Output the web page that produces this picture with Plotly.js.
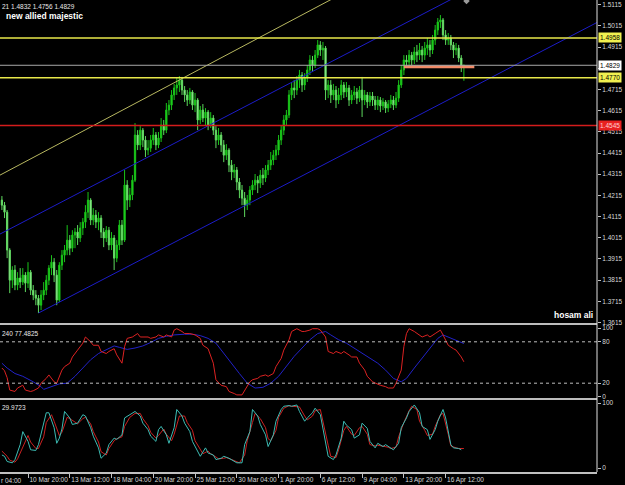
<!DOCTYPE html>
<html><head><meta charset="utf-8">
<script src="https://cdn.plot.ly/plotly-3.0.1.min.js"></script>
<style>html,body{margin:0;padding:0;background:#000;}#chart{width:625px;height:485px;}</style>
</head><body><div id="chart"></div>
<script>
// ---- H4 bars (price) ----
const barOpen = [1.4193,1.4169,1.4136,1.3957,1.3815,1.3863,1.3792,1.3825,1.3806,1.3839,
1.3801,1.3853,1.3768,1.3745,1.3730,1.3697,1.3745,1.3768,1.3815,1.3872,
1.3900,1.3839,1.3721,1.3886,1.3933,1.3957,1.4004,1.3966,1.4028,1.4042,
1.4014,1.4061,1.4089,1.4136,1.4193,1.4099,1.4122,1.4089,1.4108,1.4042,
1.4014,1.4051,1.3981,1.4014,1.3919,1.3981,1.4075,1.4004,1.4264,1.4193,
1.4217,1.4287,1.4500,1.4453,1.4523,1.4476,1.4429,1.4438,1.4476,1.4500,
1.4453,1.4486,1.4547,1.4523,1.4618,1.4641,1.4689,1.4722,1.4736,1.4759,
1.4712,1.4689,1.4665,1.4703,1.4641,1.4665,1.4571,1.4618,1.4580,1.4608,
1.4547,1.4580,1.4523,1.4476,1.4500,1.4453,1.4405,1.4429,1.4358,1.4325,
1.4335,1.4278,1.4240,1.4202,1.4169,1.4193,1.4240,1.4264,1.4287,1.4273,
1.4311,1.4297,1.4335,1.4358,1.4382,1.4405,1.4429,1.4476,1.4523,1.4571,
1.4594,1.4689,1.4722,1.4712,1.4759,1.4783,1.4736,1.4769,1.4807,1.4854,
1.4830,1.4877,1.4925,1.4901,1.4910,1.4712,1.4736,1.4689,1.4712,1.4665,
1.4689,1.4736,1.4703,1.4722,1.4665,1.4689,1.4703,1.4674,1.4712,1.4665,
1.4689,1.4656,1.4684,1.4665,1.4641,1.4665,1.4637,1.4656,1.4627,1.4646,
1.4665,1.4641,1.4674,1.4736,1.4807,1.4854,1.4844,1.4877,1.4854,1.4892,
1.4877,1.4901,1.4877,1.4910,1.4925,1.4901,1.4948,1.4995,1.5033,1.5043,
1.4972,1.4948,1.4958,1.4925,1.4901,1.4910,1.4863,1.4821];
const barHigh = [1.4212,1.4184,1.4146,1.3966,1.3881,1.3886,1.3853,1.3872,1.3872,1.3853,
1.3900,1.3863,1.3792,1.3768,1.3745,1.3768,1.3806,1.3839,1.3886,1.3933,
1.3919,1.3863,1.3900,1.3957,1.3981,1.4075,1.4028,1.4051,1.4061,1.4075,
1.4089,1.4108,1.4169,1.4231,1.4202,1.4155,1.4146,1.4136,1.4122,1.4061,
1.4070,1.4066,1.4042,1.4028,1.4004,1.4099,1.4099,1.4335,1.4287,1.4250,
1.4311,1.4556,1.4523,1.4542,1.4533,1.4495,1.4476,1.4500,1.4533,1.4514,
1.4514,1.4580,1.4571,1.4651,1.4665,1.4712,1.4741,1.4769,1.4778,1.4774,
1.4731,1.4712,1.4722,1.4712,1.4698,1.4674,1.4637,1.4646,1.4627,1.4618,
1.4608,1.4594,1.4542,1.4533,1.4514,1.4476,1.4457,1.4438,1.4382,1.4363,
1.4349,1.4297,1.4264,1.4231,1.4217,1.4259,1.4287,1.4316,1.4306,1.4335,
1.4344,1.4358,1.4382,1.4420,1.4429,1.4453,1.4500,1.4547,1.4594,1.4618,
1.4712,1.4750,1.4759,1.4778,1.4807,1.4797,1.4792,1.4830,1.4877,1.4873,
1.4901,1.4948,1.4943,1.4939,1.4920,1.4759,1.4759,1.4741,1.4731,1.4722,
1.4759,1.4750,1.4750,1.4736,1.4712,1.4731,1.4722,1.4731,1.4774,1.4712,
1.4703,1.4703,1.4703,1.4684,1.4684,1.4679,1.4674,1.4665,1.4665,1.4689,
1.4684,1.4703,1.4759,1.4830,1.4877,1.4877,1.4901,1.4892,1.4915,1.4925,
1.4934,1.4920,1.4939,1.4958,1.4948,1.4972,1.5019,1.5052,1.5066,1.5052,
1.4995,1.4981,1.4972,1.4939,1.4934,1.4925,1.4877,1.4832];
const barLow = [1.4146,1.4108,1.3919,1.3754,1.3778,1.3768,1.3768,1.3778,1.3792,1.3759,
1.3778,1.3745,1.3721,1.3697,1.3660,1.3674,1.3721,1.3745,1.3792,1.3839,
1.3806,1.3697,1.3712,1.3863,1.3900,1.3933,1.3933,1.3948,1.3966,1.3981,
1.3995,1.4028,1.4061,1.4108,1.4075,1.4075,1.4061,1.4051,1.4014,1.3971,
1.3995,1.3957,1.3957,1.3863,1.3900,1.3957,1.3981,1.3995,1.4146,1.4160,
1.4193,1.4278,1.4429,1.4429,1.4443,1.4396,1.4405,1.4420,1.4453,1.4429,
1.4438,1.4467,1.4500,1.4509,1.4594,1.4618,1.4665,1.4689,1.4703,1.4689,
1.4656,1.4637,1.4646,1.4618,1.4608,1.4523,1.4552,1.4561,1.4547,1.4523,
1.4533,1.4500,1.4438,1.4453,1.4420,1.4372,1.4382,1.4325,1.4287,1.4297,
1.4240,1.4202,1.4169,1.4113,1.4146,1.4169,1.4217,1.4240,1.4226,1.4250,
1.4264,1.4278,1.4311,1.4335,1.4358,1.4382,1.4405,1.4453,1.4500,1.4547,
1.4580,1.4665,1.4674,1.4689,1.4722,1.4703,1.4712,1.4750,1.4783,1.4797,
1.4816,1.4863,1.4873,1.4854,1.4665,1.4674,1.4651,1.4665,1.4627,1.4646,
1.4665,1.4674,1.4679,1.4637,1.4646,1.4665,1.4646,1.4656,1.4585,1.4641,
1.4627,1.4637,1.4637,1.4618,1.4618,1.4608,1.4618,1.4604,1.4608,1.4627,
1.4618,1.4627,1.4656,1.4722,1.4783,1.4816,1.4825,1.4830,1.4835,1.4844,
1.4854,1.4844,1.4854,1.4877,1.4868,1.4882,1.4925,1.4972,1.5005,1.4948,
1.4925,1.4925,1.4901,1.4863,1.4877,1.4844,1.4797,1.4756];
const barClose = [1.4169,1.4136,1.3957,1.3815,1.3863,1.3792,1.3825,1.3806,1.3839,1.3801,
1.3853,1.3768,1.3745,1.3730,1.3697,1.3745,1.3768,1.3815,1.3872,1.3900,
1.3839,1.3721,1.3886,1.3933,1.3957,1.4004,1.3966,1.4028,1.4042,1.4014,
1.4061,1.4089,1.4136,1.4193,1.4099,1.4122,1.4089,1.4108,1.4042,1.4014,
1.4051,1.3981,1.4014,1.3919,1.3981,1.4075,1.4004,1.4264,1.4193,1.4217,
1.4287,1.4500,1.4453,1.4523,1.4476,1.4429,1.4438,1.4476,1.4500,1.4453,
1.4486,1.4547,1.4523,1.4618,1.4641,1.4689,1.4722,1.4736,1.4759,1.4712,
1.4689,1.4665,1.4703,1.4641,1.4665,1.4571,1.4618,1.4580,1.4608,1.4547,
1.4580,1.4523,1.4476,1.4500,1.4453,1.4405,1.4429,1.4358,1.4325,1.4335,
1.4278,1.4240,1.4202,1.4169,1.4193,1.4240,1.4264,1.4287,1.4273,1.4311,
1.4297,1.4335,1.4358,1.4382,1.4405,1.4429,1.4476,1.4523,1.4571,1.4594,
1.4689,1.4722,1.4712,1.4759,1.4783,1.4736,1.4769,1.4807,1.4854,1.4830,
1.4877,1.4925,1.4901,1.4910,1.4712,1.4736,1.4689,1.4712,1.4665,1.4689,
1.4736,1.4703,1.4722,1.4665,1.4689,1.4703,1.4674,1.4712,1.4665,1.4689,
1.4656,1.4684,1.4665,1.4641,1.4665,1.4637,1.4656,1.4627,1.4646,1.4665,
1.4641,1.4674,1.4736,1.4807,1.4854,1.4844,1.4877,1.4854,1.4892,1.4877,
1.4901,1.4877,1.4910,1.4925,1.4901,1.4948,1.4995,1.5033,1.5043,1.4972,
1.4948,1.4958,1.4925,1.4901,1.4910,1.4863,1.4821,1.4829];

// ---- time axis ----
const tickBars = [10,26,42,58,74,90,106,122,138,154,170];
const tickLabels = ['10 Mar 20:00','13 Mar 12:00','18 Mar 04:00','20 Mar 20:00','25 Mar 12:00',
  '30 Mar 04:00','1 Apr 20:00','6 Apr 12:00','9 Apr 04:00','13 Apr 20:00','16 Apr 12:00'];
const cutLabel = 'r 04:00';

// ---- price scale (1.4815 is hidden under the bid tag in the reference) ----
const priceTicks = [1.3615,1.3715,1.3815,1.3915,1.4015,1.4115,1.4215,1.4315,1.4415,1.4515,
  1.4615,1.4715,1.4815,1.4915,1.5015,1.5115];
const priceTickText = ['1.3615','1.3715','1.3815','1.3915','1.4015','1.4115','1.4215','1.4315','1.4415','1.4515',
  '1.4615','1.4715','','1.4915','1.5015','1.5115'];

// ---- objects ----
const yellowLevels = [1.4958, 1.4770];
const bidLevel = 1.4829;
const redLevel = 1.4545;
const orangeIdx = [154, 181];
const orangePrice = [1.4822, 1.4822];
const upperChIdx = [-1, 228];
const upperChPrice = [1.4031, 1.5498];
const lowerChIdx = [14, 228];
const lowerChPrice = [1.3660, 1.5031];
const yellowTrendIdx = [-1, 140];
const yellowTrendPrice = [1.4309, 1.5230];
const markIdx = [178];
const markPrice = [1.5132];

// ---- Stochastic (panel 2) ----
const kIdx = [0,1,2,3,5,6,8,9,11,12,14,15,17,18,20,21,23,24,26,27,29,31,32,34,35,37,38,40,41,43,44,46,47,48,50,52,53,56,57,59,60,62,63,65,66,67,69,70,72,74,76,77,79,81,82,84,86,87,89,90,92,93,95,96,98,99,101,102,104,105,107,108,110,111,113,115,116,118,119,121,122,124,125,127,128,130,131,133,134,136,137,139,140,142,143,145,147,148,150,151,153,154,155,156,158,160,161,163,164,166,167,168,169,171,173,174,176,177];
const kVal = [42,38,28,10,8,13,17,10,8,9,13,20,27,32,22,20,39,44,49,58,68,78,87,80,75,75,66,63,66,70,61,49,73,85,87,92,87,87,85,87,90,87,90,87,97,99,95,92,92,90,85,75,70,49,25,17,15,8,5,3,3,10,22,25,27,30,32,30,34,44,56,68,83,95,99,95,95,97,99,99,97,87,66,63,66,63,66,61,58,58,49,39,30,22,20,17,15,13,13,20,39,73,92,99,95,90,87,90,87,92,95,97,90,75,70,68,58,51];
const dIdx = [0,2,5,8,12,15,16,19,22,25,28,31,34,37,41,43,45,48,51,54,57,60,63,66,70,73,76,79,82,85,88,91,94,97,100,103,106,109,112,115,118,121,124,126,129,132,135,138,141,144,147,150,153,155,158,161,164,167,169,171,173,177];
const dVal = [49,42,34,30,22,15,11,15,19,20,30,42,54,63,71,74,72,69,71,74,79,85,88,90,91,91,89,85,78,63,49,34,20,13,14,20,30,44,59,71,83,92,95,90,83,78,71,63,56,49,39,27,22,27,42,56,71,85,90,87,84,77.5];

// ---- Oscillator (panel 3) ----
const fIdx = [0,1,2,4,5,7,8,10,11,13,14,16,17,18,20,21,22,23,24,26,27,29,31,32,34,35,37,38,40,41,43,44,46,47,49,51,53,54,56,57,59,60,61,63,64,66,67,69,70,72,73,75,76,78,79,81,82,84,85,87,89,90,92,93,95,96,98,99,101,102,104,105,107,108,110,111,113,114,116,117,119,120,122,124,125,127,128,130,131,132,134,135,137,138,140,141,143,144,146,147,149,150,152,153,155,156,158,160,161,163,164,166,167,169,170,172,173,175,176];
const fVal = [20,18,10,8,13,36,56,41,28,27,36,67,85,85,62,38,46,60,87,77,67,69,82,80,62,49,31,15,23,36,46,44,51,77,82,87,80,69,59,49,41,59,64,51,38,62,90,80,69,56,41,26,18,31,23,20,13,15,18,15,10,8,8,36,56,90,80,67,51,33,51,72,90,95,96,95,97,87,72,77,85,92,82,41,18,13,20,46,72,66,59,46,51,69,61,41,31,38,33,36,31,28,38,62,77,87,97,85,64,59,44,59,72,90,77,36,31,30,28,23];
const sIdx = [0,2,3,5,6,8,10,11,13,14,16,17,19,20,22,23,25,26,28,29,31,32,34,35,37,38,40,41,43,44,46,47,49,51,53,54,56,57,59,60,62,63,65,66,68,70,71,73,74,76,77,79,80,82,83,85,86,88,90,91,93,94,96,97,99,101,102,103,105,106,108,110,111,113,114,116,117,119,120,122,123,125,126,128,129,131,132,134,135,137,138,140,141,143,144,146,148,149,151,152,154,156,157,159,160,162,163,165,166,168,169,171,172,174,175,177];
const sVal = [26,18,12,9,14,32,50,40,30,30,48,70,82,72,50,55,78,76,70,68,76,78,68,56,40,25,20,30,42,45,48,64,78,84,84,76,65,55,46,50,60,52,42,52,80,80,70,58,42,28,22,26,22,17,14,15,16,13,9,8,20,42,70,84,76,62,45,42,58,78,92,96,95,95,94,80,74,80,88,90,70,35,18,16,28,58,64,52,50,62,64,52,36,34,35,34,32,30,32,48,70,88,95,90,72,58,50,52,64,82,84,52,34,31,30,30];

const bars = barOpen.map((_, i) => i);

const FONT = 'Liberation Sans, Arial, sans-serif';
const AXC = '#d8d8d8';

const traces = [
  {type:'candlestick', x:bars, open:barOpen, high:barHigh, low:barLow, close:barClose,
   xaxis:'x', yaxis:'y', hoverinfo:'skip',
   increasing:{line:{color:'#19c419', width:1}, fillcolor:'#22d822'},
   decreasing:{line:{color:'#5ed85e', width:1}, fillcolor:'#b8f8b8'},
   whiskerwidth:0},
  {type:'scatter', mode:'lines', x:yellowTrendIdx, y:yellowTrendPrice, xaxis:'x', yaxis:'y',
   line:{color:'#b8b860', width:1}, hoverinfo:'skip'},
  {type:'scatter', mode:'lines', x:upperChIdx, y:upperChPrice, xaxis:'x', yaxis:'y',
   line:{color:'#1c1cc8', width:1}, hoverinfo:'skip'},
  {type:'scatter', mode:'lines', x:lowerChIdx, y:lowerChPrice, xaxis:'x', yaxis:'y',
   line:{color:'#1c1cc8', width:1}, hoverinfo:'skip'},
  {type:'scatter', mode:'lines', x:orangeIdx, y:orangePrice, xaxis:'x', yaxis:'y',
   line:{color:'#f08a68', width:3}, hoverinfo:'skip'},
  {type:'scatter', mode:'markers', x:markIdx, y:markPrice, xaxis:'x', yaxis:'y',
   marker:{symbol:'diamond', size:5, color:'#9a9a9a'}, cliponaxis:false, hoverinfo:'skip'},
  {type:'scatter', mode:'lines', x:dIdx, y:dVal, xaxis:'x', yaxis:'y2',
   line:{color:'#2222c8', width:1}, hoverinfo:'skip'},
  {type:'scatter', mode:'lines', x:kIdx, y:kVal, xaxis:'x', yaxis:'y2',
   line:{color:'#dd2222', width:1}, hoverinfo:'skip'},
  {type:'scatter', mode:'lines', x:sIdx, y:sVal, xaxis:'x', yaxis:'y3',
   line:{color:'#cc2222', width:1}, hoverinfo:'skip'},
  {type:'scatter', mode:'lines', x:fIdx, y:fVal, xaxis:'x', yaxis:'y3',
   line:{color:'#3cbcb4', width:1}, hoverinfo:'skip'}
];

const hline = (yref, y, color, width, dash) => ({type:'line', xref:'paper', x0:0, x1:1, yref:yref, y0:y, y1:y,
  line:{color:color, width:width, dash:dash||'solid'}, layer:'above'});

const shapes = [
  hline('y', yellowLevels[0], '#e8e84a', 1.5),
  hline('y', yellowLevels[1], '#e8e84a', 1.5),
  hline('y', bidLevel, '#a8a8a8', 1),
  hline('y', redLevel, '#d41c1c', 1.5),
  hline('y2', 80, '#bdbdbd', 1, 'dot'),
  hline('y2', 20, '#bdbdbd', 1, 'dot'),
  {type:'line', xref:'paper', yref:'paper', x0:0, x1:1, y0:0.3136, y1:0.3136, line:{color:'#bcbcbc', width:2}},
  {type:'line', xref:'paper', yref:'paper', x0:0, x1:1, y0:0.1547, y1:0.1547, line:{color:'#bcbcbc', width:2}},
  {type:'line', xref:'paper', yref:'paper', x0:1, x1:1, y0:0, y1:1, line:{color:'#e0e0e0', width:1}}
];

const priceTag = (y, text, bg, fg) => ({xref:'paper', x:1, xanchor:'left', xshift:1, yref:'y', y:y,
  text:text, showarrow:false, bgcolor:bg, borderpad:1, font:{family:FONT, size:6.5, color:fg}});

const annotations = [
  priceTag(yellowLevels[0], '1.4958', '#f0f050', '#000'),
  priceTag(bidLevel, '1.4829', '#ffffff', '#000'),
  priceTag(yellowLevels[1], '1.4770', '#f0f050', '#000'),
  priceTag(redLevel, '1.4545', '#e82020', '#ffd0d0'),
  {xref:'paper', yref:'paper', x:0, y:1, xanchor:'left', yanchor:'top', yshift:-1, showarrow:false,
   text:'21 1.4832 1.4756 1.4829', font:{family:FONT, size:6.5, color:'#e8e8e8'}},
  {xref:'paper', yref:'paper', x:0, y:1, xanchor:'left', yanchor:'top', xshift:4, yshift:-9, showarrow:false,
   text:'<b>new allied majestic</b>', font:{family:FONT, size:8.5, color:'#ffffff'}},
  {xref:'paper', yref:'paper', x:1, y:0.3136, xanchor:'right', yanchor:'bottom', xshift:-2, yshift:2, showarrow:false,
   text:'<b>hosam ali</b>', font:{family:FONT, size:8.5, color:'#ffffff'}},
  {xref:'paper', yref:'paper', x:0, y:0.3114, xanchor:'left', yanchor:'top', yshift:-3, showarrow:false,
   text:'240 77.4825', font:{family:FONT, size:6.5, color:'#e8e8e8'}},
  {xref:'paper', yref:'paper', x:0, y:0.1525, xanchor:'left', yanchor:'top', yshift:-2, showarrow:false,
   text:'29.9723', font:{family:FONT, size:6.5, color:'#e8e8e8'}},
  {xref:'paper', yref:'paper', x:0, y:0, xanchor:'left', yanchor:'top', xshift:-1, yshift:-3, showarrow:false,
   text:cutLabel, font:{family:FONT, size:6.5, color:AXC}}
];

const tickFont = {family:FONT, size:6.5, color:AXC};

const layout = {
  width:625, height:485,
  margin:{l:0, r:28, t:0, b:13, pad:0},
  paper_bgcolor:'#000', plot_bgcolor:'#000',
  showlegend:false, hovermode:false,
  xaxis:{range:[-0.73, 228], anchor:'y3', tickvals:tickBars, ticktext:tickLabels, tickangle:0,
    ticks:'outside', ticklen:4, tickcolor:'#c0c0c0', tickfont:tickFont,
    ticklabelposition:'outside right', showgrid:false, zeroline:false,
    showline:true, linecolor:'#c0c0c0', linewidth:2, rangeslider:{visible:false}, fixedrange:true},
  yaxis:{domain:[0.3157, 1], range:[1.3613, 1.5137], side:'right', anchor:'x',
    tickvals:priceTicks, ticktext:priceTickText, ticks:'outside', ticklen:3, tickcolor:'#c0c0c0',
    tickfont:tickFont, showgrid:false, zeroline:false, showline:false},
  yaxis2:{domain:[0.1568, 0.3114], range:[-1.45, 104.35], side:'right', anchor:'x',
    tickvals:[0,20,80,100], ticktext:['0','20','80','100'], ticks:'outside', ticklen:3, tickcolor:'#c0c0c0',
    tickfont:tickFont, showgrid:false, zeroline:false, showline:false},
  yaxis3:{domain:[0, 0.1525], range:[-6.15, 104.6], side:'right', anchor:'x',
    tickvals:[0,100], ticktext:['0','100'], ticks:'outside', ticklen:3, tickcolor:'#c0c0c0',
    tickfont:tickFont, showgrid:false, zeroline:false, showline:false},
  shapes:shapes,
  annotations:annotations
};

Plotly.newPlot('chart', traces, layout, {displayModeBar:false, staticPlot:true});
</script>
</body></html>
